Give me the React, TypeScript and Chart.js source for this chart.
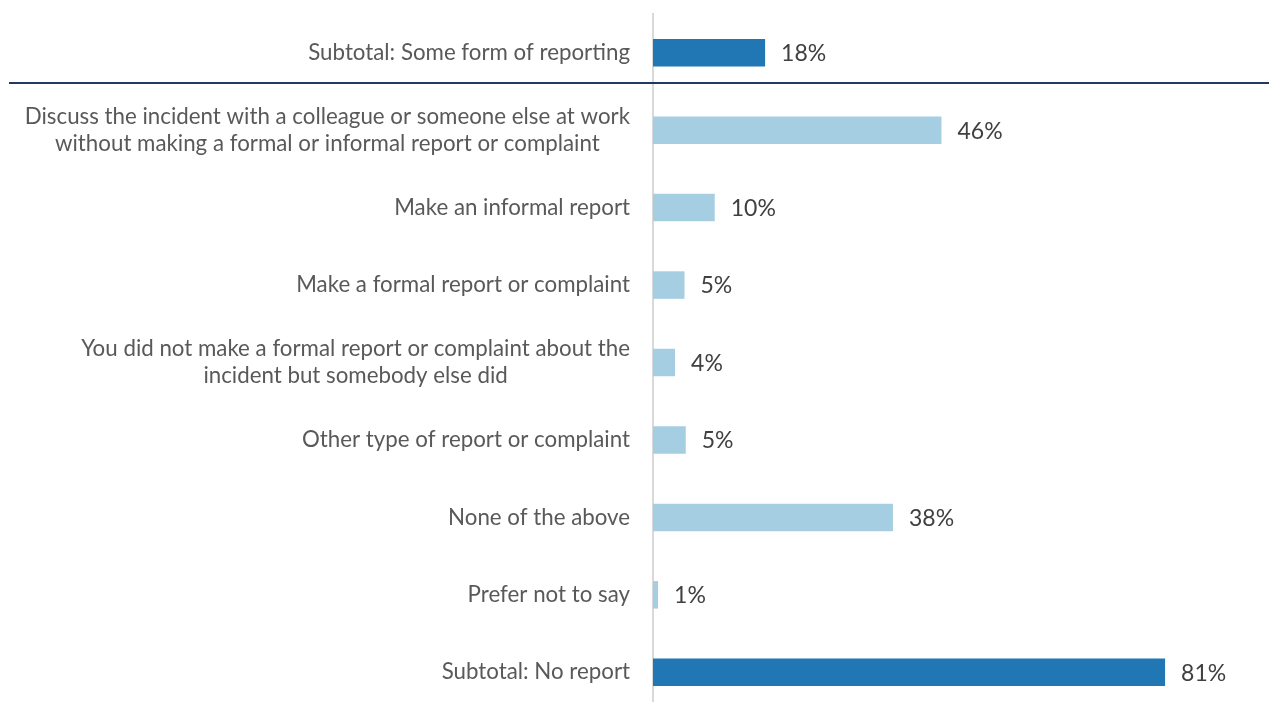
import React, { useEffect, useRef } from "react";
import { Chart, registerables } from "chart.js";

Chart.register(...registerables);

const categories: string[][] = [
  ["Subtotal: Some form of reporting"],
  ["Discuss the incident with a colleague or someone else at work", "without making a formal or informal report or complaint"],
  ["Make an informal report"],
  ["Make a formal report or complaint"],
  ["You did not make a formal report or complaint about the", "incident but somebody else did"],
  ["Other type of report or complaint"],
  ["None of the above"],
  ["Prefer not to say"],
  ["Subtotal: No report"],
];
const values = [17.8, 45.8, 9.8, 5.0, 3.5, 5.2, 38.1, 0.8, 81.3];
const valueLabels = ["18%", "46%", "10%", "5%", "4%", "5%", "38%", "1%", "81%"];
const isSubtotal = [true, false, false, false, false, false, false, false, true];

const DARK = "#2077B4";
const LIGHT = "#A6CEE3";
const FONT_FAMILY = "Lato, 'Open Sans', sans-serif";
const FONT_SIZE = 22.3;
const VALUE_FONT_SIZE = 23;
const LINE_H = 27;

export default function App() {
  const ref = useRef<HTMLCanvasElement>(null);
  useEffect(() => {
    if (!ref.current) return;
    const labelPlugin = {
      id: "customLabels",
      afterDraw(chart: any) {
        const ctx = chart.ctx;
        const ys = chart.scales.y;
        const meta = chart.getDatasetMeta(0);
        ctx.save();
        // separator line under the first subtotal
        const p0 = ys.getPixelForValue(0);
        const p1 = ys.getPixelForValue(1);
        const sepY = Math.round(p0 + (p1 - p0) * 0.39);
        ctx.strokeStyle = "#1F3864";
        ctx.lineWidth = 2;
        ctx.beginPath();
        ctx.moveTo(9, sepY);
        ctx.lineTo(chart.width, sepY);
        ctx.stroke();
        // category labels
        ctx.font = `${FONT_SIZE}px ${FONT_FAMILY}`;
        ctx.fillStyle = "#595959";
        ctx.textBaseline = "middle";
        ctx.textAlign = "center";
        const right = ys.right - 23;
        categories.forEach((lines, i) => {
          const cy = ys.getPixelForValue(i);
          const w = Math.max(...lines.map((l) => ctx.measureText(l).width));
          const cx = right - w / 2;
          lines.forEach((l, j) => {
            ctx.fillText(l, cx, cy + (j - (lines.length - 1) / 2) * LINE_H);
          });
        });
        // value labels
        ctx.font = `${VALUE_FONT_SIZE}px ${FONT_FAMILY}`;
        ctx.fillStyle = "#404040";
        ctx.textAlign = "left";
        meta.data.forEach((bar: any, i: number) => {
          ctx.fillText(valueLabels[i], bar.x + 16, bar.y + 1);
        });
        ctx.restore();
      },
    };
    const chart = new Chart(ref.current, {
      type: "bar",
      data: {
        labels: categories.map((c) => c.join(" ")),
        datasets: [
          {
            data: values,
            backgroundColor: isSubtotal.map((s) => (s ? DARK : LIGHT)),
            barPercentage: 0.355,
            categoryPercentage: 1,
          },
        ],
      },
      options: {
        indexAxis: "y",
        animation: false,
        responsive: false,
        layout: { padding: { top: 14, right: 0, bottom: 0, left: 0 } },
        plugins: { legend: { display: false }, tooltip: { enabled: false } },
        scales: {
          x: { display: false, min: 0, max: 97.8 },
          y: {
            grid: { display: false },
            border: { display: true, color: "#D9D9D9", width: 2 },
            ticks: { display: false },
            afterFit: (scale: any) => {
              scale.width = 653;
            },
          },
        },
      },
      plugins: [labelPlugin],
    });
    return () => chart.destroy();
  }, []);
  return (
    <div style={{ position: "fixed", left: 0, top: 0, width: 1269, height: 711, background: "#fff" }}>
      <canvas ref={ref} width={1269} height={711} />
    </div>
  );
}
